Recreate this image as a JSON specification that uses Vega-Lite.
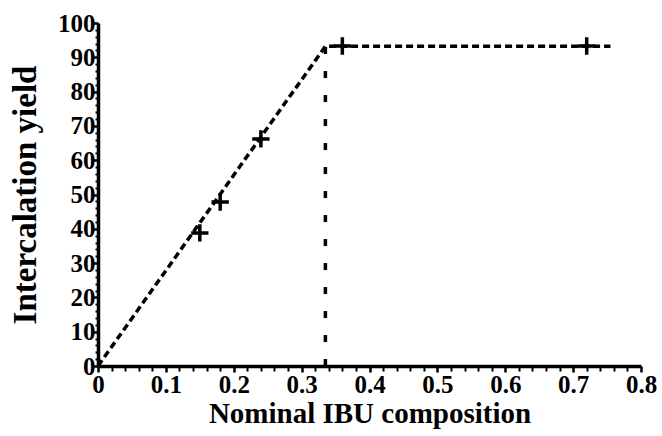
{
  "$schema": "https://vega.github.io/schema/vega-lite/v6.json",
  "autosize": "none",
  "width": 543,
  "height": 343,
  "padding": {"left": 98, "top": 23, "right": 21, "bottom": 70},
  "background": "white",
  "config": {
    "view": {"stroke": null},
    "axis": {
      "labelFont": "Liberation Serif",
      "labelFontWeight": "bold",
      "labelFontSize": 25,
      "labelColor": "black",
      "titleFont": "Liberation Serif",
      "titleFontWeight": "bold",
      "titleColor": "black",
      "grid": false,
      "domainColor": "black",
      "tickColor": "black",
      "labelOverlap": false,
      "labelFlush": false
    }
  },
  "datasets": {
    "pts": [
      {"x": 0.15, "y": 38.8},
      {"x": 0.18, "y": 47.8},
      {"x": 0.24, "y": 66.2},
      {"x": 0.36, "y": 93.3},
      {"x": 0.72, "y": 93.3}
    ],
    "lines": [
      {"x": 0, "y": 0, "seg": "fit", "o": 1},
      {"x": 0.335, "y": 93.2, "seg": "fit", "o": 2},
      {"x": 0.755, "y": 93.2, "seg": "fit", "o": 3},
      {"x": 0.335, "y": 0, "seg": "drop", "o": 1},
      {"x": 0.335, "y": 93.2, "seg": "drop", "o": 2}
    ]
  },
  "layer": [
    {
      "data": {"name": "lines"},
      "mark": {"type": "line", "color": "black", "strokeWidth": 3.5},
      "encoding": {
        "x": {
          "field": "x", "type": "quantitative",
          "scale": {"domain": [0, 0.8], "nice": false, "zero": false},
          "axis": {
            "orient": "bottom",
            "values": [0, 0.1, 0.2, 0.3, 0.4, 0.5, 0.6, 0.7, 0.8],
            "format": ".1~f",
            "title": "Nominal IBU composition",
            "titleFontSize": 29,
            "domainWidth": 3.5,
            "tickSize": 6,
            "tickWidth": 2.5,
            "labelPadding": 0,
            "titlePadding": 2
          }
        },
        "y": {
          "field": "y", "type": "quantitative",
          "scale": {"domain": [0, 100], "nice": false},
          "axis": {
            "orient": "left",
            "values": [0, 10, 20, 30, 40, 50, 60, 70, 80, 90, 100],
            "title": "Intercalation yield",
            "titleFontSize": 33,
            "domainWidth": 3.5,
            "tickSize": 6,
            "tickWidth": 2.5,
            "labelPadding": -3,
            "titlePadding": 15
          }
        },
        "detail": {"field": "seg"},
        "order": {"field": "o"},
        "strokeDash": {
          "field": "seg", "type": "nominal",
          "scale": {"domain": ["fit", "drop"], "range": [[7, 4], [7, 17]]},
          "legend": null
        }
      }
    },
    {
      "data": {"name": "pts"},
      "mark": {"type": "point", "shape": "M-1,0L1,0M0,-1L0,1", "filled": false, "stroke": "black", "strokeWidth": 3.5, "size": 300, "opacity": 1},
      "encoding": {
        "x": {
          "field": "x", "type": "quantitative",
          "axis": {
            "orient": "bottom",
            "values": [0.02, 0.04, 0.06, 0.08, 0.12, 0.14, 0.16, 0.18, 0.22, 0.24, 0.26, 0.28, 0.32, 0.34, 0.36, 0.38, 0.42, 0.44, 0.46, 0.48, 0.52, 0.54, 0.56, 0.58, 0.62, 0.64, 0.66, 0.68, 0.72, 0.74, 0.76, 0.78],
            "labels": false,
            "domain": false,
            "title": null,
            "tickSize": 5,
            "tickWidth": 2
          }
        },
        "y": {
          "field": "y", "type": "quantitative",
          "axis": {
            "orient": "left",
            "values": [2, 4, 6, 8, 12, 14, 16, 18, 22, 24, 26, 28, 32, 34, 36, 38, 42, 44, 46, 48, 52, 54, 56, 58, 62, 64, 66, 68, 72, 74, 76, 78, 82, 84, 86, 88, 92, 94, 96, 98],
            "labels": false,
            "domain": false,
            "title": null,
            "tickSize": 3,
            "tickWidth": 2
          }
        }
      }
    }
  ],
  "resolve": {"axis": {"x": "independent", "y": "independent"}}
}
